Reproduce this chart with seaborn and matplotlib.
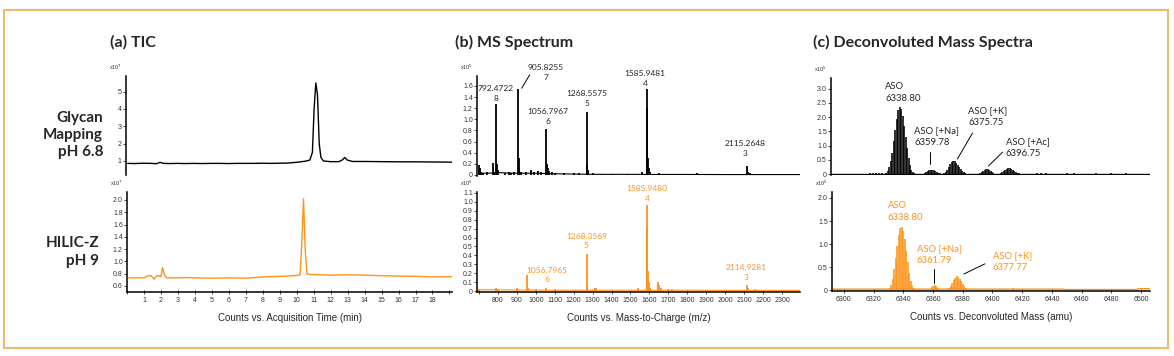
import matplotlib
matplotlib.use("Agg")
import matplotlib.pyplot as plt
from matplotlib.patches import Rectangle
from matplotlib.ticker import MultipleLocator, FuncFormatter, AutoMinorLocator
import seaborn as sns

sns.set_style("white")
plt.rcParams["font.family"] = ["Liberation Sans", "DejaVu Sans"]

ORANGE = "#FF9218"
ANNOT_FONT = ["Lato", "DejaVu Sans"]
W, H = 1174, 356

# ---- (a) TIC, time in min, counts x1e7 ----
tic_time_top = [0.1, 0.5, 1.0, 1.5, 1.8, 2.0, 2.2, 2.6, 3.0, 3.5, 4.0, 4.5, 5.0, 5.5, 6.0,
                6.5, 7.0, 7.5, 8.0, 8.5, 9.0, 9.5, 10.0, 10.5, 10.8, 10.95, 11.05, 11.15,
                11.25, 11.35, 11.45, 11.6, 12.0, 12.5, 12.7, 12.85, 13.0, 13.3, 14.0, 15.0,
                16.0, 17.0, 18.0, 19.2]
tic_top = [0.86, 0.85, 0.87, 0.86, 0.84, 0.92, 0.86, 0.85, 0.86, 0.85, 0.86, 0.85, 0.86, 0.86, 0.85,
           0.86, 0.86, 0.86, 0.87, 0.86, 0.87, 0.88, 0.92, 0.98, 1.05, 1.5, 4.0, 5.5,
           4.8, 2.0, 1.2, 1.0, 0.96, 0.96, 1.05, 1.2, 1.05, 0.97, 0.97, 0.96,
           0.95, 0.95, 0.94, 0.93]

tic_time_bot = [0.1, 0.5, 1.0, 1.2, 1.4, 1.6, 1.7, 1.8, 2.0, 2.1, 2.2, 2.35, 3.0, 3.5, 4.0,
                5.0, 6.0, 7.0, 7.5, 8.0, 9.0, 9.5, 10.0, 10.2, 10.3, 10.4, 10.5, 10.6, 10.8,
                11.5, 12.0, 13.0, 14.0, 15.0, 16.0, 17.0, 18.0, 19.2]
tic_bot = [0.73, 0.73, 0.73, 0.76, 0.77, 0.71, 0.75, 0.77, 0.75, 0.90, 0.78, 0.73, 0.73, 0.735, 0.73,
           0.725, 0.73, 0.725, 0.735, 0.745, 0.755, 0.76, 0.77, 0.78, 1.3, 2.02, 1.2, 0.8, 0.785,
           0.78, 0.775, 0.78, 0.775, 0.765, 0.76, 0.755, 0.745, 0.75]

# ---- (b) MS spectrum, m/z, counts x1e5 ----
ms_mz_top = [792.47, 905.83, 1056.80, 1268.56, 1585.95, 2115.26,
             702, 706, 712, 720, 745, 772, 780, 795, 798, 802, 840, 858, 870, 885, 910, 914,
             920, 950, 975, 990, 1010, 1030, 1060, 1064, 1070, 1085, 1100, 1150, 1200, 1230,
             1272, 1276, 1300, 1350, 1400, 1480, 1560, 1590, 1594, 1598, 1605, 1650, 1700,
             1800, 1850, 2120, 2130]
ms_int_top = [1.28, 1.55, 0.83, 1.13, 1.55, 0.16,
              0.18, 0.12, 0.06, 0.04, 0.05, 0.22, 0.05, 0.2, 0.12, 0.08, 0.04, 0.05, 0.04, 0.05, 0.3, 0.12,
              0.06, 0.05, 0.09, 0.06, 0.07, 0.05, 0.2, 0.12, 0.07, 0.06, 0.04, 0.03, 0.03, 0.03,
              0.18, 0.08, 0.03, 0.02, 0.02, 0.02, 0.06, 1.2, 0.3, 0.12, 0.05, 0.03, 0.02,
              0.02, 0.03, 0.05, 0.03]
ms_base_mz = [697, 750, 800, 900, 1000, 1100, 1200, 1300, 1400, 1500, 1600, 1800, 2000, 2200, 2395]
ms_base_top = [0.03, 0.03, 0.04, 0.03, 0.03, 0.02, 0.015, 0.01, 0.01, 0.01, 0.008, 0.008, 0.006, 0.006, 0.006]

ms_mz_bot = [700, 790, 795, 900, 952, 960, 1000, 1056.80, 1100, 1268.36, 1272, 1315, 1320, 1540,
             1585.95, 1590, 1594, 1598, 1604, 1645, 1650, 1660, 1700, 1720, 2114.93, 2120, 2160]
ms_int_bot = [0.02, 0.04, 0.02, 0.04, 0.18, 0.03, 0.02, 0.04, 0.02, 0.42, 0.07, 0.04, 0.03, 0.04,
              0.97, 0.71, 0.23, 0.1, 0.04, 0.1, 0.07, 0.03, 0.02, 0.02, 0.07, 0.03, 0.02]
ms_base_bot = [0.015, 0.015, 0.015, 0.012, 0.012, 0.01, 0.01, 0.01, 0.01, 0.01, 0.01, 0.01, 0.008, 0.008, 0.008]

ms_labels_top = ["792.4722\n8", "905.8255\n7", "1056.7967\n6", "1268.5575\n5", "1585.9481\n4", "2115.2648\n3"]
ms_label_x_top = [790, 1052, 1062, 1272, 1576, 2106]
ms_label_y_top = [1.47, 1.84, 1.05, 1.37, 1.74, 0.47]
ms_labels_bot = ["1585.9480\n4", "1268.3569\n5", "1056.7965\n6", "2114.9281\n3"]
ms_label_x_bot = [1587, 1267, 1057, 2111]
ms_label_y_bot = [1.09, 0.56, 0.18, 0.21]

# ---- (c) deconvoluted mass, amu, counts x1e5 ----
dc_mass_top = [6318, 6320, 6322, 6324, 6326,
               6329, 6330, 6331, 6332, 6333, 6334, 6335, 6336, 6337, 6338, 6339, 6340, 6341,
               6342, 6343, 6344, 6345, 6346, 6347, 6348,
               6355, 6356, 6357, 6358, 6359, 6360, 6361, 6362, 6363, 6364, 6365,
               6368, 6369, 6370, 6371, 6372, 6373, 6374, 6375, 6376, 6377, 6378, 6379, 6380, 6381, 6382,
               6392, 6393, 6394, 6395, 6396, 6397, 6398, 6399, 6400, 6401,
               6406, 6407, 6408, 6409, 6410, 6411, 6412, 6413, 6414, 6415, 6416, 6417, 6418,
               6430, 6433, 6436, 6450, 6455, 6470, 6480, 6490]
dc_int_top = [0.02, 0.04, 0.05, 0.04, 0.02,
              0.05, 0.12, 0.25, 0.45, 0.75, 1.15, 1.55, 1.95, 2.25, 2.36, 2.3, 2.05, 1.7,
              1.3, 0.9, 0.55, 0.3, 0.15, 0.07, 0.03,
              0.03, 0.06, 0.1, 0.13, 0.15, 0.15, 0.13, 0.1, 0.07, 0.04, 0.02,
              0.03, 0.08, 0.15, 0.25, 0.35, 0.42, 0.46, 0.45, 0.4, 0.33, 0.25, 0.17, 0.1, 0.06, 0.03,
              0.03, 0.07, 0.11, 0.15, 0.17, 0.17, 0.14, 0.1, 0.06, 0.03,
              0.03, 0.06, 0.1, 0.14, 0.18, 0.2, 0.2, 0.18, 0.15, 0.11, 0.07, 0.04, 0.02,
              0.03, 0.05, 0.03, 0.03, 0.04, 0.02, 0.03, 0.02]
dc_mass_bot = [6320, 6322, 6324,
               6331, 6332, 6333, 6334, 6335, 6336, 6337, 6338, 6339, 6340, 6341, 6342, 6343,
               6344, 6345, 6346, 6347,
               6358, 6359, 6360, 6361, 6362, 6363, 6364,
               6371, 6372, 6373, 6374, 6375, 6376, 6377, 6378, 6379, 6380, 6381, 6382,
               6400, 6410, 6414, 6420]
dc_int_bot = [0.02, 0.03, 0.02,
              0.05, 0.12, 0.25, 0.45, 0.7, 0.95, 1.2, 1.35, 1.37, 1.28, 1.1, 0.85, 0.6,
              0.38, 0.2, 0.1, 0.05,
              0.03, 0.06, 0.09, 0.1, 0.08, 0.05, 0.02,
              0.04, 0.09, 0.15, 0.21, 0.26, 0.3, 0.29, 0.25, 0.19, 0.13, 0.08, 0.04,
              0.03, 0.03, 0.04, 0.02]
dc_base_mass = [6292, 6447, 6448, 6497, 6498, 6506]
dc_base_top = [0.0, 0.0, 0.0, 0.0, 0.0, 0.0]
dc_base_bot = [0.02, 0.02, 0.012, 0.012, 0.03, 0.03]

dc_labels_top = ["ASO\n6338.80", "ASO [+Na]\n6359.78", "ASO [+K]\n6375.75", "ASO [+Ac]\n6396.75"]
dc_label_x_top = [6328.3, 6347.8, 6384.2, 6409.1]
dc_label_y_top = [2.87, 1.32, 2.02, 0.93]
dc_leaders_top = [((6358.6, 0.77), (6358.6, 0.35)), ((6376.8, 0.53), (6386.9, 1.44)),
                  ((6397.6, 0.28), (6407.1, 0.77))]
dc_labels_bot = ["ASO\n6338.80", "ASO [+Na]\n6361.79", "ASO [+K]\n6377.77"]
dc_label_x_bot = [6329.6, 6349.2, 6400.3]
dc_label_y_bot = [1.70, 0.77, 0.62]
dc_leaders_bot = [((6360.6, 0.46), (6360.6, 0.15)), ((6380.8, 0.35), (6394.9, 0.57))]

fig = plt.figure(figsize=(W / 100, H / 100), dpi=100)


def add_ax(left, top, right, bottom):
    return fig.add_axes([left / W, 1 - bottom / H, (right - left) / W, (bottom - top) / H])


def style(ax, show_x):
    sns.despine(ax=ax, bottom=not show_x)
    for s in ["left", "bottom"]:
        ax.spines[s].set_linewidth(1.1)
        ax.spines[s].set_color("black")
    ax.tick_params(axis="y", direction="out", length=2, width=0.6, pad=1,
                   labelsize=5, labelcolor="#333333", left=True)
    ax.tick_params(axis="x", direction="inout", length=2.5, width=0.6, pad=2,
                   labelsize=5, labelcolor="#333333", bottom=show_x, labelbottom=show_x)
    ax.set_xlabel("")
    ax.set_ylabel("")
    ax.set_facecolor("none")


def dec_fmt(v, p):
    return "0" if abs(v) < 1e-9 else f"{v:.1f}"


def exponent(ax, txt):
    ax.annotate(txt, xy=(0, 1), xycoords="axes fraction", xytext=(-12, 3),
                textcoords="offset points", fontsize=4, color="#333333", ha="left", va="bottom")


# ---- (a) TIC ----
ax = add_ax(126, 76, 452, 175)
sns.lineplot(x=tic_time_top, y=tic_top, ax=ax, color="black", linewidth=1.0)
ax.set_xlim(0, 19.15)
ax.set_ylim(0.19, 5.9)
ax.yaxis.set_major_locator(MultipleLocator(1))
style(ax, False)
exponent(ax, "x10$^7$")

ax = add_ax(127, 192, 452, 292)
sns.lineplot(x=tic_time_bot, y=tic_bot, ax=ax, color=ORANGE, linewidth=1.0)
ax.set_xlim(0, 19.15)
ax.set_ylim(0.5, 2.13)
ax.yaxis.set_major_locator(MultipleLocator(0.2))
ax.yaxis.set_major_formatter(FuncFormatter(dec_fmt))
ax.xaxis.set_major_locator(MultipleLocator(1))
ax.xaxis.set_major_formatter(FuncFormatter(lambda v, p: "" if v < 0.5 or v > 18.5 else f"{v:.0f}"))
ax.xaxis.set_minor_locator(AutoMinorLocator(5))
style(ax, True)
ax.tick_params(axis="x", which="minor", length=1, width=0.4, direction="inout")
ax.set_xlabel("Counts vs. Acquisition Time (min)", fontsize=7, labelpad=7)
exponent(ax, "x10$^7$")

# ---- (b) MS spectrum ----
ax = add_ax(477, 76, 800, 176)
sns.lineplot(x=ms_base_mz, y=ms_base_top, ax=ax, color="black", linewidth=0.8)
ax.vlines(ms_mz_top, 0, ms_int_top, color="black", linewidth=1.3)
ax.set_xlim(690, 2395)
ax.set_ylim(-0.02, 1.78)
ax.yaxis.set_major_locator(MultipleLocator(0.2))
ax.yaxis.set_major_formatter(FuncFormatter(dec_fmt))
style(ax, False)
exponent(ax, "x10$^5$")
for t, x, y in zip(ms_labels_top, ms_label_x_top, ms_label_y_top):
    ax.text(x, y, t, ha="center", va="center", fontsize=6, family=ANNOT_FONT,
            linespacing=1.45, clip_on=False)
ax.plot([926, 968], [1.56, 1.80], color="black", linewidth=0.7, clip_on=False)

ax = add_ax(477, 192, 800, 292)
sns.lineplot(x=ms_base_mz, y=ms_base_bot, ax=ax, color=ORANGE, linewidth=0.8)
ax.vlines(ms_mz_bot, 0, ms_int_bot, color=ORANGE, linewidth=1.3)
ax.set_xlim(690, 2395)
ax.set_ylim(-0.01, 1.11)
ax.yaxis.set_major_locator(MultipleLocator(0.1))
ax.yaxis.set_major_formatter(FuncFormatter(dec_fmt))
ax.xaxis.set_major_locator(MultipleLocator(100))
ax.xaxis.set_major_formatter(FuncFormatter(lambda v, p: "" if v < 750 else f"{v:.0f}"))
style(ax, True)
ax.set_xlabel("Counts vs. Mass-to-Charge (m/z)", fontsize=7, labelpad=7)
exponent(ax, "x10$^5$")
for t, x, y in zip(ms_labels_bot, ms_label_x_bot, ms_label_y_bot):
    ax.text(x, y, t, ha="center", va="center", fontsize=6, family=ANNOT_FONT,
            color=ORANGE, linespacing=1.45, clip_on=False)

# ---- (c) deconvoluted mass ----
ax = add_ax(831, 78, 1150, 175)
sns.lineplot(x=dc_base_mass, y=dc_base_top, ax=ax, color="black", linewidth=1.0)
ax.vlines(dc_mass_top, 0, dc_int_top, color="black", linewidth=1.15)
ax.set_xlim(6292, 6506)
ax.set_ylim(-0.035, 3.38)
ax.yaxis.set_major_locator(MultipleLocator(0.5))
ax.yaxis.set_major_formatter(FuncFormatter(dec_fmt))
style(ax, False)
exponent(ax, "x10$^5$")
for t, x, y in zip(dc_labels_top, dc_label_x_top, dc_label_y_top):
    ax.text(x, y, t, ha="left", va="center", fontsize=6.8, family=ANNOT_FONT,
            linespacing=1.4, clip_on=False)
for (x0, y0), (x1, y1) in dc_leaders_top:
    ax.plot([x0, x1], [y0, y1], color="black", linewidth=0.7)

ax = add_ax(832, 192, 1150, 291)
sns.lineplot(x=dc_base_mass, y=dc_base_bot, ax=ax, color=ORANGE, linewidth=1.0)
ax.vlines(dc_mass_bot, 0, dc_int_bot, color=ORANGE, linewidth=1.15)
ax.set_xlim(6292, 6506)
ax.set_ylim(-0.02, 2.13)
ax.yaxis.set_major_locator(MultipleLocator(0.5))
ax.yaxis.set_major_formatter(FuncFormatter(dec_fmt))
ax.xaxis.set_major_locator(MultipleLocator(20))
ax.xaxis.set_major_formatter(FuncFormatter(lambda v, p: f"{v:.0f}"))
style(ax, True)
ax.set_xlabel("Counts vs. Deconvoluted Mass (amu)", fontsize=7, labelpad=7)
exponent(ax, "x10$^5$")
for t, x, y in zip(dc_labels_bot, dc_label_x_bot, dc_label_y_bot):
    ax.text(x, y, t, ha="left", va="center", fontsize=6.8, family=ANNOT_FONT,
            color=ORANGE, linespacing=1.4, clip_on=False)
for (x0, y0), (x1, y1) in dc_leaders_bot:
    ax.plot([x0, x1], [y0, y1], color="black", linewidth=0.7)

# ---- titles, row labels, frame ----
title_kw = dict(fontsize=11.5, fontweight="bold", family=ANNOT_FONT, va="center", ha="left")
fig.text(110 / W, 1 - 42 / H, "(a) TIC", **title_kw)
fig.text(455 / W, 1 - 42 / H, "(b) MS Spectrum", **title_kw)
fig.text(813 / W, 1 - 42 / H, "(c) Deconvoluted Mass Spectra", **title_kw)

row_kw = dict(fontsize=11, fontweight="bold", family=ANNOT_FONT, ha="right", va="center",
              multialignment="right", linespacing=1.3)
fig.text(103 / W, 1 - 135 / H, "Glycan\nMapping\npH 6.8", **row_kw)
fig.text(99 / W, 1 - 252 / H, "HILIC-Z\npH 9", **row_kw)

fig.patches.append(Rectangle((4 / W, 1 - 348 / H), 1164 / W, 338 / H, transform=fig.transFigure,
                             fill=False, edgecolor="#EDBB6B", linewidth=1.5))

fig.savefig("out.png", dpi=100, facecolor="white")
